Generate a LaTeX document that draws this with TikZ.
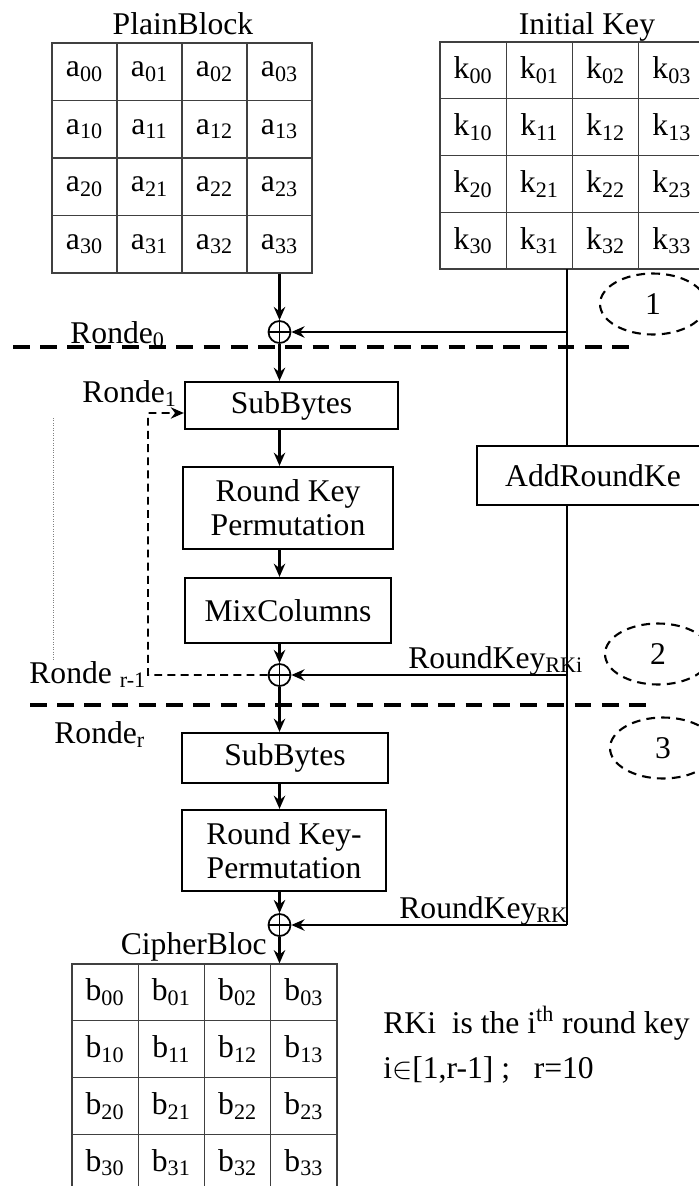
\documentclass[tikz,border=0pt]{standalone}
\usepackage{fontspec}
\setmainfont{Liberation Serif}
\usetikzlibrary{arrows.meta,shapes.geometric}

\tikzset{
  every node/.style={font=\fontsize{18}{19.5}\selectfont},
  txt/.style={inner sep=0pt},
  cell/.style={draw=black!75, line width=0.8pt, minimum width=1.3cm, minimum height=1.15cm, inner sep=0pt},
  stage/.style={draw, line width=1.3pt, align=center, inner sep=0pt},
  xor/.style={circle, draw, line width=1pt, minimum size=0.44cm, inner sep=0pt,
    path picture={\draw[line width=1pt] (path picture bounding box.north) -- (path picture bounding box.south)
      (path picture bounding box.west) -- (path picture bounding box.east);}},
  flow/.style={line width=1.3pt, -{Stealth[length=7.5pt,width=6.5pt,inset=2.5pt]}},
  keyline/.style={line width=1.3pt},
  roundsep/.style={line width=2.4pt, dash pattern=on 9.5pt off 6pt},
  feedback/.style={line width=0.9pt, dash pattern=on 4.5pt off 3pt, -{Stealth[length=7.5pt,width=6.5pt,inset=2.5pt]}},
  tag/.style={ellipse, draw, line width=1.2pt, dash pattern=on 5pt off 3.5pt, minimum width=2.12cm, minimum height=1.22cm, inner sep=0pt}
}

\begin{document}
\begin{tikzpicture}[x=0.02cm, y=-0.02cm]
  \useasboundingbox (0,0) rectangle (699,1186);
  \clip (0,0) rectangle (699,1186);

  %%% state grids
  \node[txt, anchor=base] (ptitle) at (183,35) {PlainBlock};
  \node[txt, anchor=base] (ktitle) at (587,35) {Initial Key};
  \foreach \r in {0,...,3}
    \foreach \c in {0,...,3} {
      \node[cell] (a-\r-\c) at ({84.5+65*\c},{71.75+57.5*\r}) {a\textsubscript{\r\c}};
      \node[cell, minimum width=1.325cm, minimum height=1.135cm] (k-\r-\c) at ({473.1+66.25*\c},{70.4+56.75*\r}) {k\textsubscript{\r\c}};
      \node[cell, minimum width=1.325cm, minimum height=1.135cm] (b-\r-\c) at ({105.1+66.25*\c},{992.4+56.75*\r}) {b\textsubscript{\r\c}};
    }
  \coordinate (kt) at (567,269);

  %%% round 0
  \node[xor] (x0) at (279.5,332) {};
  \node[txt, anchor=base west] (r0) at (70,343) {Ronde\textsubscript{0}};
  \node[tag] (t1) at (653,304) {1};

  %%% rounds 1 .. r-1
  \node[txt, anchor=base west] (r1) at (82,402) {Ronde\textsubscript{1}};
  \node[stage, minimum width=4.26cm, minimum height=0.94cm] (sb1) at (291.5,405.5) {SubBytes};
  \node[stage, minimum width=4.2cm, minimum height=1.64cm] (rkp1) at (288,508) {Round Key\\Permutation};
  \node[stage, minimum width=4.12cm, minimum height=1.3cm] (mc) at (288,610.5) {MixColumns};
  \node[stage, minimum width=4.64cm, minimum height=1.18cm] (ark) at (593,475.5) {AddRoundKe};
  \node[xor] (x1) at (279.5,675) {};
  \node[txt, anchor=base west] (rr1) at (29,683) {Ronde \textsubscript{r-1}};
  \node[txt, anchor=base west] (rki) at (408,668) {RoundKey\textsubscript{RKi}};
  \node[tag] (t2) at (658,654) {2};
  \coordinate (fb) at (148,413);

  %%% last round
  \node[txt, anchor=base west] (rr) at (54,743) {Ronde\textsubscript{r}};
  \node[tag] (t3) at (663,748) {3};
  \node[stage, minimum width=4.12cm, minimum height=1.0cm] (sb2) at (285,758) {SubBytes};
  \node[stage, minimum width=4.08cm, minimum height=1.62cm] (rkp2) at (284,850.5) {Round Key-\\Permutation};
  \node[xor] (x2) at (279.5,925) {};
  \node[txt, anchor=base west] (rk) at (399,918) {RoundKey\textsubscript{RK}};
  \node[txt, anchor=base east] (cb) at (267,954) {CipherBloc};

  %%% note
  \node[txt, anchor=base west] (n1) at (383,1033) {RKi\ \ is the i\textsuperscript{th} round key};
  \node[txt, anchor=base west] (n2) at (383,1078) {i$\in$[1,r-1] ;\ \ \ r=10};

  %%% round separators
  \draw[roundsep] (13,347) -- (637,347);
  \draw[roundsep] (30,705) -- (647,705);
  \draw[densely dotted, gray, line width=0.4pt] (53,418) -- (53,660);

  %%% data path
  \draw[flow] (a-3-3.south) -- (x0);
  \draw[flow] (x0) -- (x0 |- sb1.north);
  \draw[flow] (x0 |- sb1.south) -- (x0 |- rkp1.north);
  \draw[flow] (x0 |- rkp1.south) -- (x0 |- mc.north);
  \draw[flow] (x1 |- mc.south) -- (x1);
  \draw[feedback] (x1.west) -| (fb) -- ([yshift=-0.15cm]sb1.west);
  \draw[flow] (x1) -- (x1 |- sb2.north);
  \draw[flow] (x1 |- sb2.south) -- (x1 |- rkp2.north);
  \draw[flow] (x2 |- rkp2.south) -- (x2);
  \draw[flow] (x2) -- (x2 |- b-0-3.north);

  %%% key path
  \draw[keyline] (kt) -- (kt |- ark.north);
  \draw[keyline] (kt |- ark.south) -- (kt |- x2);
  \draw[flow] (x0 -| kt) -- (x0);
  \draw[flow] (x1 -| kt) -- (x1);
  \draw[flow] (x2 -| kt) -- (x2);
\end{tikzpicture}
\end{document}
